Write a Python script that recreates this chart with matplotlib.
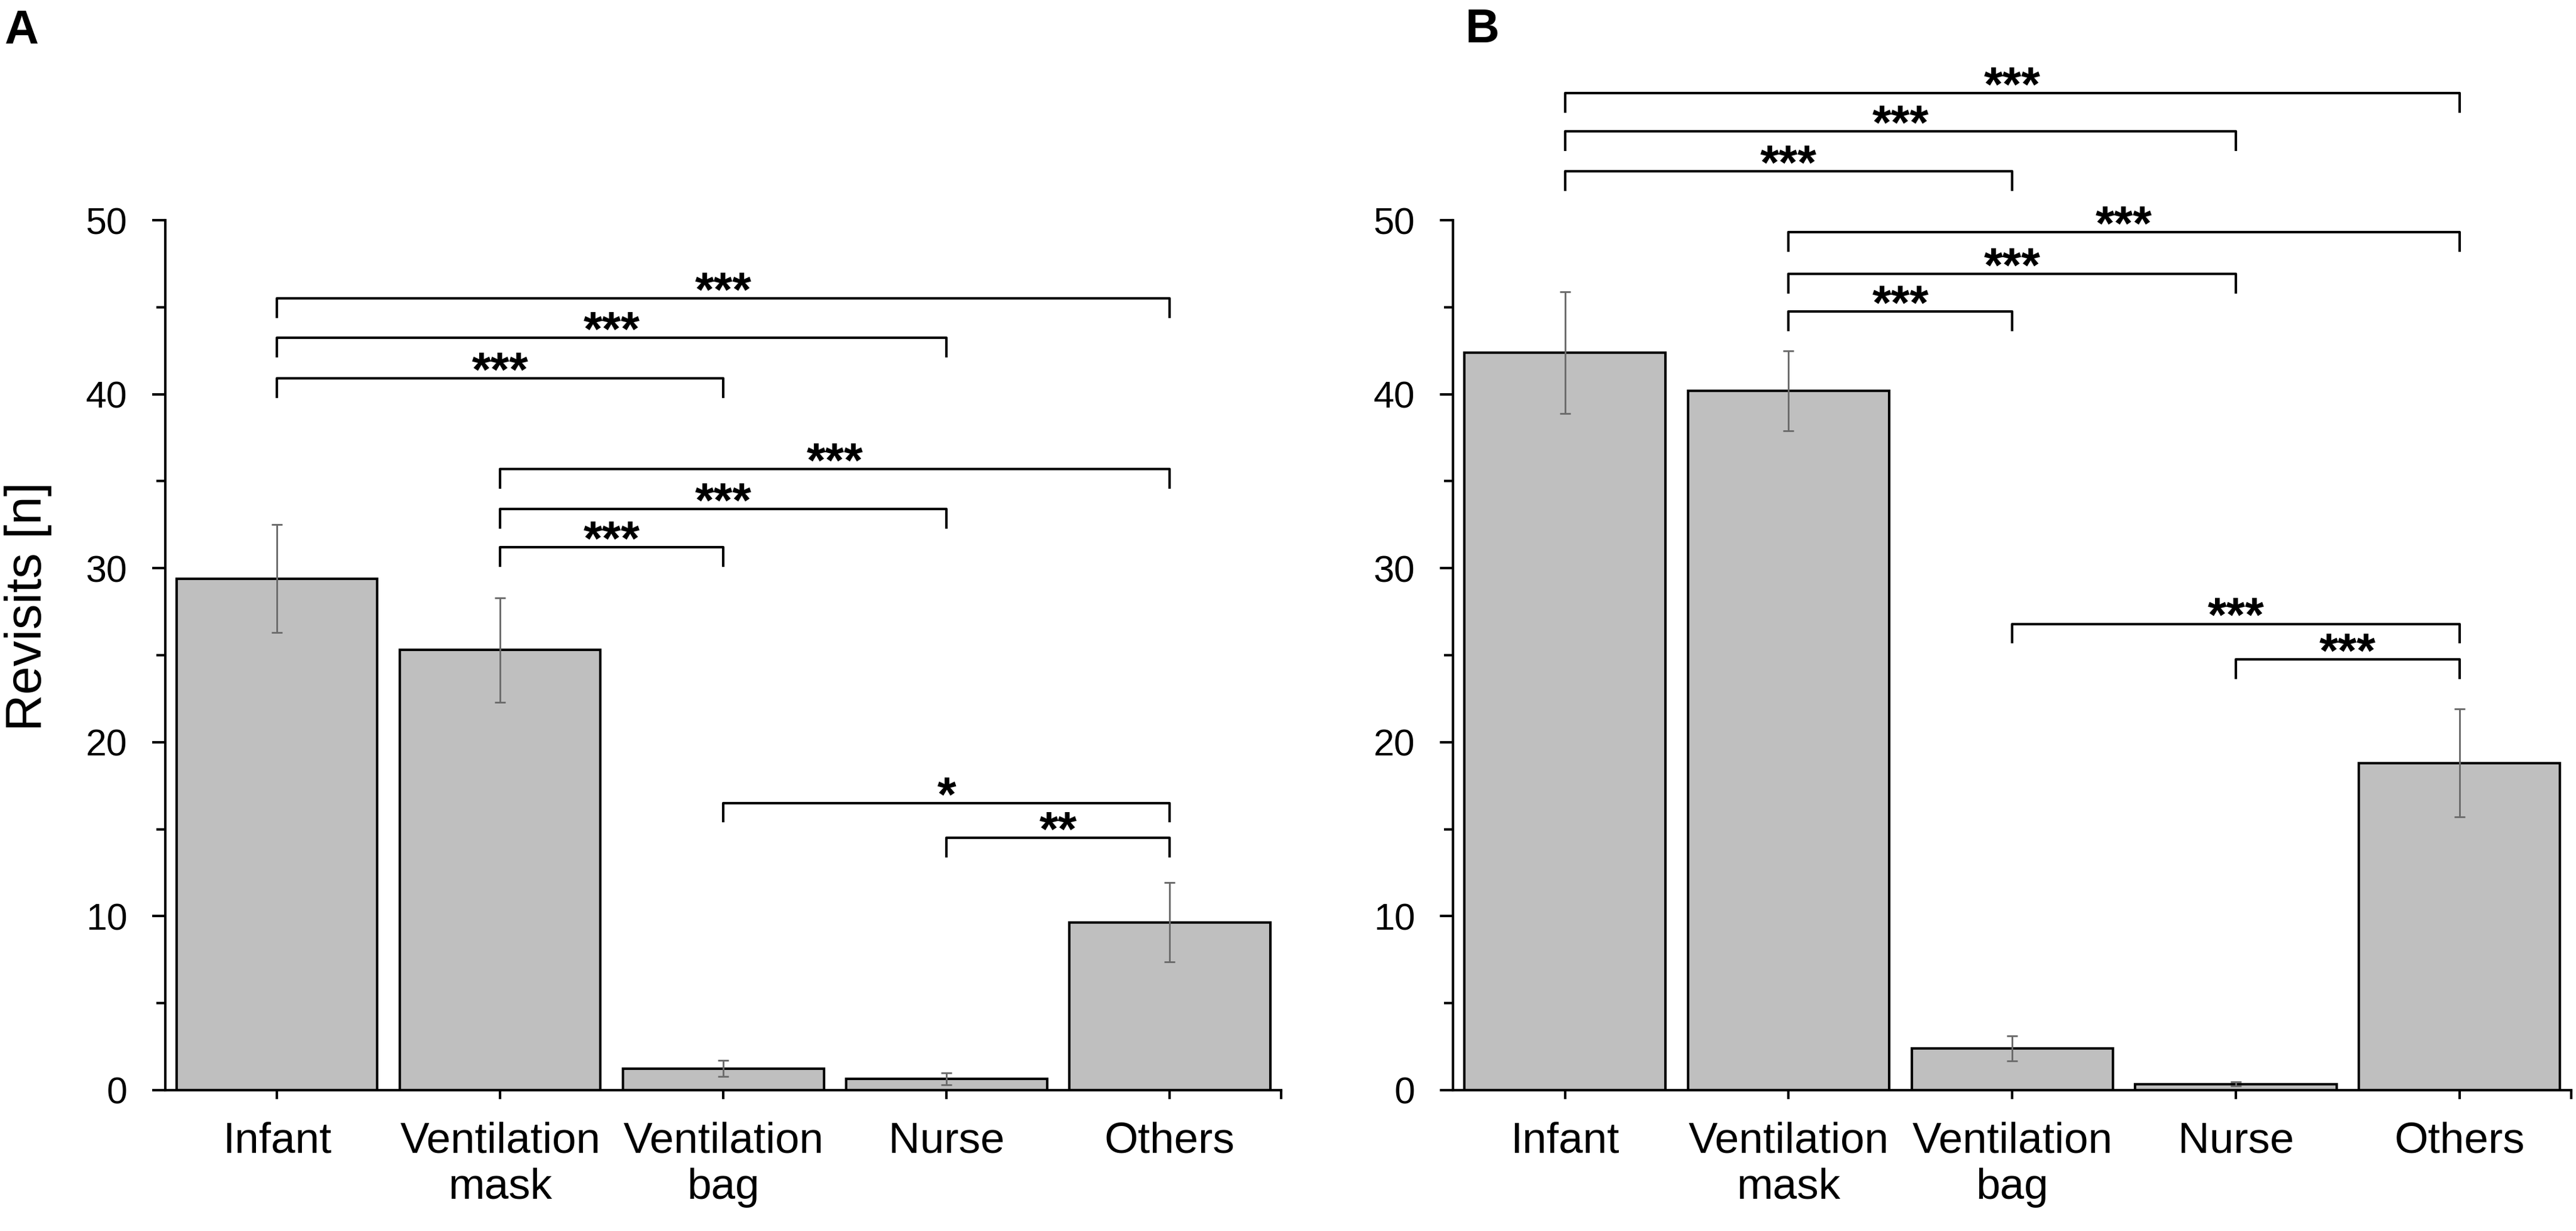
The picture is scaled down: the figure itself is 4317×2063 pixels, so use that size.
import numpy as np
import matplotlib.pyplot as plt

params = {
    'font.family': ['Liberation Sans', 'DejaVu Sans'],
    'axes.linewidth': 1.0,
    'xtick.labelsize': 17.5,
    'ytick.labelsize': 15,
}
plt.rcParams.update(params)

categories = ['Infant', 'Ventilation\nmask', 'Ventilation\nbag', 'Nurse', 'Others']

# panel A
means_a = [29.4, 25.3, 1.25, 0.65, 9.65]
err_a = [3.1, 3.0, 0.45, 0.35, 2.28]
# panel B
means_b = [42.4, 40.2, 2.4, 0.35, 18.8]
err_b = [3.5, 2.3, 0.73, 0.12, 3.1]

# significance brackets: (from, to), bracket level, stars
sig_pairs = [(0, 4), (0, 3), (0, 2), (1, 4), (1, 3), (1, 2), (2, 4), (3, 4)]
levels_a = [45.5, 43.25, 40.9, 35.7, 33.4, 31.2, 16.5, 14.5]
stars_a = ['***', '***', '***', '***', '***', '***', '*', '**']
levels_b = [57.3, 55.1, 52.8, 49.3, 46.9, 44.75, 26.8, 24.75]
stars_b = ['***'] * 8


def draw_panel(ax, means, errs, levels, stars):
    x = np.arange(len(categories))
    ax.bar(x, means, width=0.9, color='#bfbfbf', edgecolor='black',
           linewidth=1.0, zorder=2)
    ax.errorbar(x, means, yerr=errs, fmt='none', ecolor='#6b6b6b',
                elinewidth=0.7, capsize=2.2, capthick=0.7, zorder=3)

    drop = 1.05
    for (i, j), lev, s in zip(sig_pairs, levels, stars):
        ax.plot([i, i, j, j], [lev - drop, lev, lev, lev - drop],
                color='black', linewidth=1.0, clip_on=False, zorder=4)
        ax.annotate(s, xy=((i + j) / 2, lev), xytext=(0, -3),
                    textcoords='offset points', ha='center', va='baseline',
                    fontsize=19.5, fontweight='bold', annotation_clip=False)

    ax.set_xlim(-0.5, 4.5)
    ax.set_ylim(0, 50)
    ax.set_xticks(x)
    ax.set_xticklabels(categories)
    ax.set_xticks([4.5], minor=True)
    ax.set_yticks([0, 10, 20, 30, 40, 50])
    ax.set_yticks([5, 15, 25, 35, 45], minor=True)
    ax.tick_params(axis='y', which='major', direction='out', length=5.3,
                   width=1.0, pad=10)
    ax.tick_params(axis='y', which='minor', direction='out', length=3.6,
                   width=1.0)
    ax.tick_params(axis='x', which='both', direction='out', length=3.6,
                   width=1.0, pad=9)
    ax.spines['top'].set_visible(False)
    ax.spines['right'].set_visible(False)


def main():
    fig = plt.figure(figsize=(4317 / 300, 2063 / 300), dpi=300)
    ax1 = fig.add_axes([0.0642, 0.1144, 0.4332, 0.7067])
    ax2 = fig.add_axes([0.5641, 0.1144, 0.4341, 0.7067])

    draw_panel(ax1, means_a, err_a, levels_a, stars_a)
    draw_panel(ax2, means_b, err_b, levels_b, stars_b)

    fig.text(47 / 4317, 1 - 1016 / 2063, 'Revisits [n]', rotation=90,
             ha='center', va='center', fontsize=20.5)

    fig.text(7 / 4317, 1 - 73 / 2063, 'A', fontsize=19, fontweight='bold',
             ha='left', va='baseline')
    fig.text(2456 / 4317, 1 - 71 / 2063, 'B', fontsize=19, fontweight='bold',
             ha='left', va='baseline')

    fig.savefig('out.png', dpi=300)
    plt.close(fig)


if __name__ == '__main__':
    main()
